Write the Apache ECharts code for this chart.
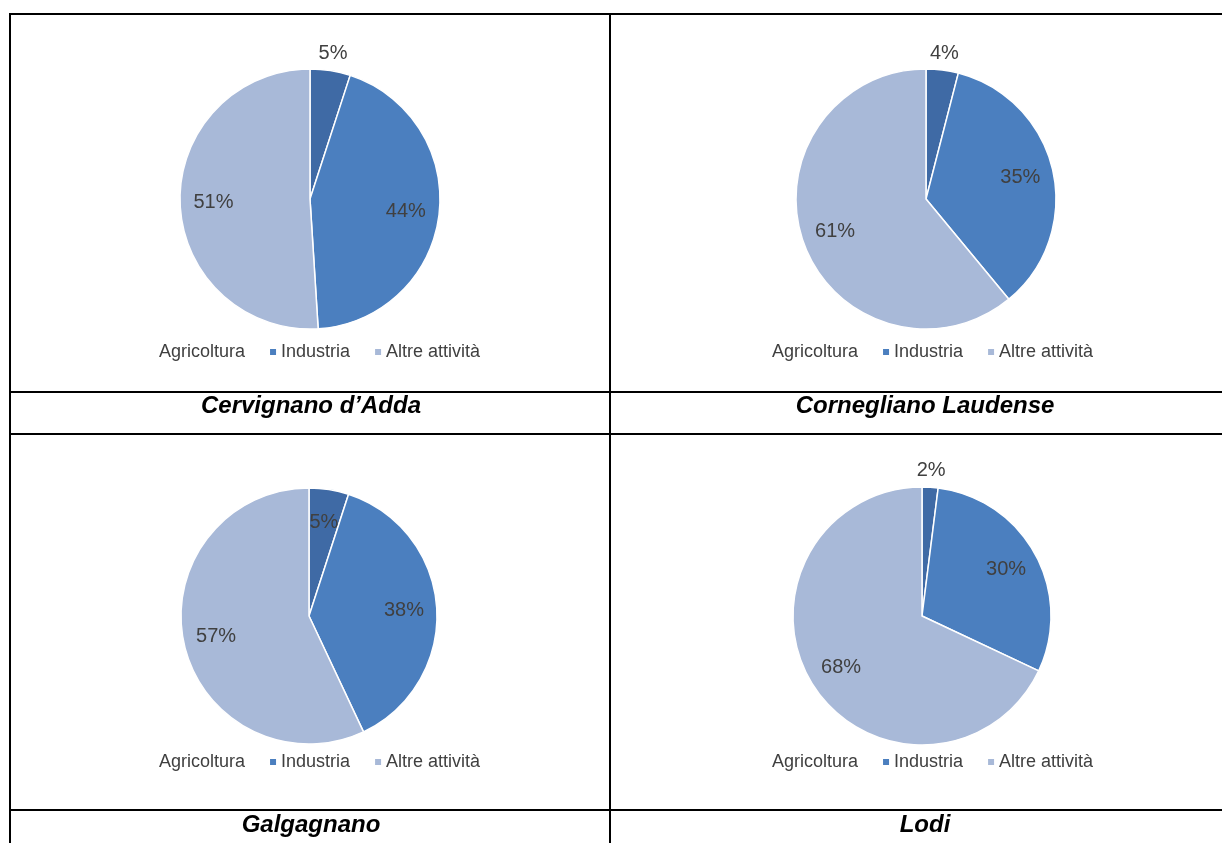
<!DOCTYPE html>
<html><head><meta charset="utf-8">
<script src="https://cdn.jsdelivr.net/npm/echarts@6/dist/echarts.min.js"></script>
<style>html,body{margin:0;padding:0;background:#fff;} #c{width:1222px;height:843px;}</style>
</head><body><div id="c"></div>
<script>
// ---- data ----
const categories = ['Agricoltura', 'Industria', 'Altre attività'];
const towns = ['Cervignano d’Adda', 'Cornegliano Laudense', 'Galgagnano', 'Lodi'];
const cervignano = [5, 44, 51];
const cornegliano = [4, 35, 61];
const galgagnano = [5, 38, 57];
const lodi = [2, 30, 68];
// index of the slice whose label sits outside the pie (-1: none)
const outsideLabel = [0, 0, -1, 0];

const values = [cervignano, cornegliano, galgagnano, lodi];
const colors = ['#3f6aa5', '#4b7fbf', '#a8b9d8'];
const FONT = '"Liberation Sans", Arial, sans-serif';

// ---- layout of the four panels ----
const panels = [
  {cx: 310, cy: 199, r: 130, legendLeft: 148, legendTop: 343, capX: 311, capY: 406},
  {cx: 926, cy: 199, r: 130, legendLeft: 761, legendTop: 343, capX: 925, capY: 406},
  {cx: 309, cy: 616, r: 128, legendLeft: 148, legendTop: 753, capX: 311, capY: 825},
  {cx: 922, cy: 616, r: 129, legendLeft: 761, legendTop: 753, capX: 925, capY: 825}
];

const series = [];
const legends = [];
const graphics = [];

panels.forEach((p, k) => {
  const vals = values[k];
  const base = categories.map((c, i) => ({name: c, value: vals[i], itemStyle: {color: colors[i]}}));
  series.push({
    type: 'pie', center: [p.cx, p.cy], radius: p.r, startAngle: 90, clockwise: true,
    animation: false, silent: true, label: {show: false}, labelLine: {show: false},
    itemStyle: {borderColor: '#ffffff', borderWidth: 1.5},
    data: base
  });
  const labelStyle = {fontSize: 20, color: '#404040', fontFamily: FONT, formatter: '{c}%'};
  // inside labels
  series.push({
    type: 'pie', center: [p.cx, p.cy], radius: p.r * 1.44, startAngle: 90, clockwise: true,
    animation: false, silent: true, z: 5, labelLine: {show: false},
    itemStyle: {color: 'rgba(0,0,0,0)', borderWidth: 0},
    data: categories.map((c, i) => ({name: c, value: vals[i],
      itemStyle: {color: 'rgba(0,0,0,0)'},
      label: Object.assign({show: i !== outsideLabel[k], position: 'inside'}, labelStyle)}))
  });
  // outside labels
  series.push({
    type: 'pie', center: [p.cx, p.cy], radius: p.r * 2.26 - 6, startAngle: 90, clockwise: true,
    animation: false, silent: true, z: 5, labelLine: {show: false},
    itemStyle: {color: 'rgba(0,0,0,0)', borderWidth: 0},
    data: categories.map((c, i) => ({name: c, value: vals[i],
      itemStyle: {color: 'rgba(0,0,0,0)'},
      label: Object.assign({show: i === outsideLabel[k], position: 'inside'}, labelStyle)}))
  });
  legends.push({
    left: p.legendLeft, top: p.legendTop, orient: 'horizontal', padding: 0,
    itemWidth: 6, itemHeight: 6, itemGap: 25, icon: 'rect', selectedMode: false,
    itemStyle: {borderWidth: 0},
    textStyle: {fontSize: 18, color: '#404040', fontFamily: FONT, lineHeight: 18},
    data: [{name: categories[0], itemStyle: {color: 'rgba(0,0,0,0)'}}, categories[1], categories[2]]
  });
  graphics.push({
    type: 'text', x: p.capX, y: p.capY, z: 10,
    style: {text: towns[k], font: 'italic bold 24px ' + FONT, fill: '#000',
            align: 'center', verticalAlign: 'middle'}
  });
});

// table borders
const lines = [
  {x: 9, y: 13, width: 2, height: 830},
  {x: 609, y: 13, width: 2, height: 830},
  {x: 9, y: 13, width: 1213, height: 2},
  {x: 9, y: 391, width: 1213, height: 2},
  {x: 9, y: 433, width: 1213, height: 2},
  {x: 9, y: 809, width: 1213, height: 2}
];
lines.forEach(s => graphics.push({type: 'rect', shape: s, style: {fill: '#000'}, z: 10, silent: true}));

const chart = echarts.init(document.getElementById('c'), null, {renderer: 'canvas'});
chart.setOption({
  backgroundColor: '#ffffff',
  animation: false,
  legend: legends,
  series: series,
  graphic: graphics
});
</script></body></html>
